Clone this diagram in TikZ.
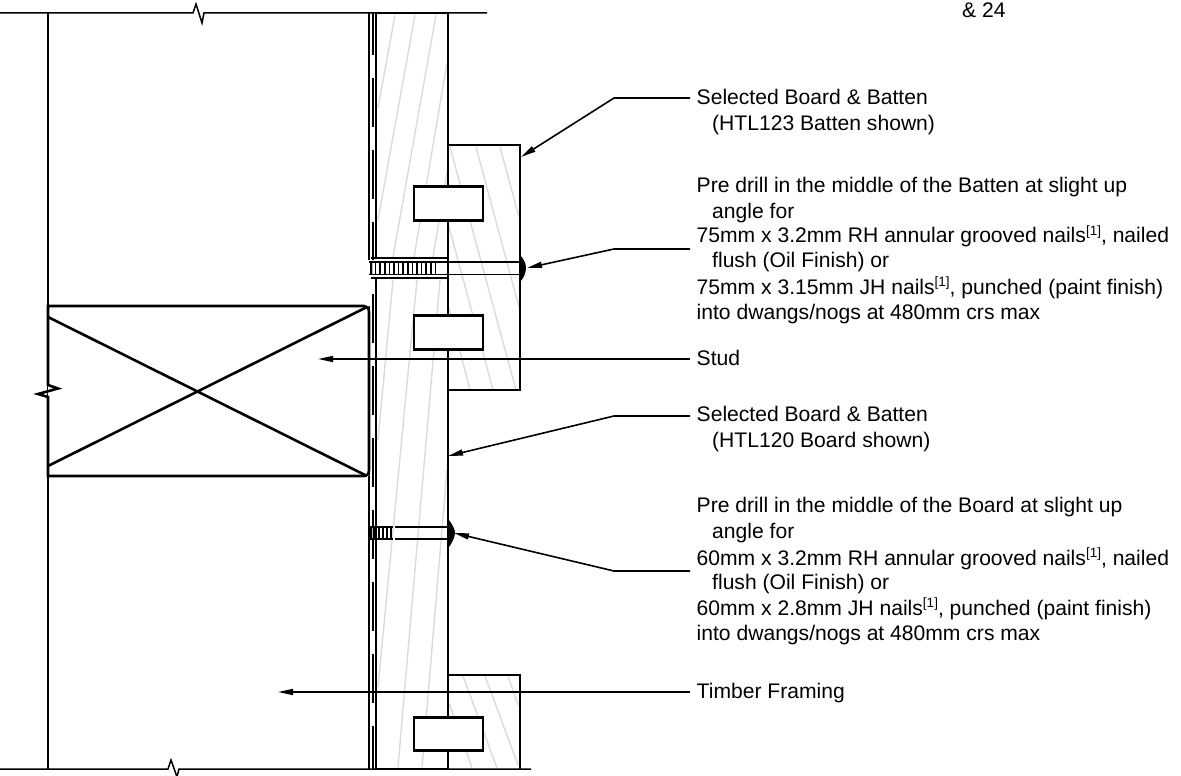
\documentclass[tikz,border=0pt]{standalone}
\usepackage{fontspec}
\setmainfont{Liberation Sans}
\usetikzlibrary{arrows.meta}
\definecolor{hatchgray}{gray}{0.86}
\tikzset{
  thick line/.style={line width=2.6pt,black,line join=miter},
  thin line/.style={line width=1.5pt,black},
  hatchline/.style={line width=1.4pt,hatchgray},
  leader/.style={line width=1.6pt,black,-{Triangle[length=15pt,width=6pt]}},
  note/.style={anchor=base west,inner sep=0pt,font=\fontsize{21.1}{25}\selectfont},
}
\newcommand{\refn}{\raisebox{7.5pt}{\fontsize{13.5}{14}\selectfont [1]}}
\begin{document}
\begin{tikzpicture}[x=1pt,y=-1pt]
\useasboundingbox[fill=white] (0,0) rectangle (1181,776);
% hatching
\foreach \a/\b/\c/\d in {
 395/15/378/108, 415/15/378/220, 436/15/393/257, 447/63/414/257, 447/173/433/257,
 393/280/378/440, 417/280/378/687, 440/280/398/767, 447/470/422/767,
 450/147/516/390, 476/147/519/307, 500/147/519/217, 448/223/493/390, 449/308/470/390,
 463/676/497/768, 485/676/518/765, 508/676/518/705, 449/703/472/768}
 {\draw[hatchline] (\a,\b) -- (\c,\d);}
% framing
\draw[thin line] (0,13) -- (193,13) -- (196,4) -- (202,23) -- (204,13) -- (487,13);
\draw[thin line] (0,769) -- (168,769) -- (171,760) -- (177,777) -- (179,769) -- (531,769);
\draw[thin line] (48,13) -- (48,769);
\draw[thin line] (369,13) -- (369,260);
\draw[thin line] (369,306) -- (369,769);
% wrap
\draw[line width=2.3pt,dash pattern=on 49pt off 23pt,dash phase=7pt] (373,13) -- (373,769);
% board
\draw[thick line] (376,13) rectangle (448,258);
\draw[thick line] (376,278) -- (376,769) -- (448,769) -- (448,278) -- cycle;
% battens
\draw[thick line] (448,145) -- (520,145) -- (520,390) -- (448,390);
\draw[thick line] (448,675) -- (520,675) -- (520,769);
\node[thick line,draw,fill=white,minimum width=69pt,minimum height=33.5pt,inner sep=0pt] (r1) at (448.5,203.5) {};
\node[thick line,draw,fill=white,minimum width=69pt,minimum height=33.5pt,inner sep=0pt] (r2) at (448.5,332.5) {};
\node[thick line,draw,fill=white,minimum width=69pt,minimum height=33.5pt,inner sep=0pt] (r3) at (448.5,734) {};
% stud
\fill[white] (48,306) rectangle (369,476);
\draw[thick line] (48,476) -- (48,397) -- (38,394) -- (58,388.5) -- (48,385) -- (48,306)
  -- (364,306) .. controls (367,306) and (369,308) .. (369,312)
  -- (369,470) .. controls (369,474) and (367,476) .. (364,476) -- cycle;
\draw[thick line] (48,317) -- (367,476) (48,466) -- (367,307);
% upper nail
\fill[white] (369,259.5) rectangle (447,276.5);
\fill[black!25] (370,262) rectangle (373,274);
\draw[thin line] (369,262) -- (521,262) (369,274.5) -- (521,274.5);
\foreach \x in {371,375.6,...,438} \draw[line width=1.5pt] (\x,262) -- (\x,275);
\draw[thick line] (371,258) -- (448,258) (371,278) -- (448,278);
\draw[thick line] (448,258) -- (448,278);
\fill (520,255) .. controls (524,259) and (526,264) .. (526,268) .. controls (526,272) and (524,278) .. (520,282) -- cycle;
% lower nail
\fill[black!25] (370,527) rectangle (373,539);
\draw[thin line] (369,527) -- (393,527) (395,527) -- (448,527) (369,539) -- (393,539) (395,539) -- (448,539);
\foreach \x in {371,375,...,393} \draw[line width=1.5pt] (\x,526) -- (\x,540);
\fill (449,520) .. controls (452,524) and (455,529) .. (455,533) .. controls (455,537) and (452,543) .. (449,547) -- cycle;
% leaders
\coordinate (a1) at (521,157); \coordinate (a2) at (527,268); \coordinate (a3) at (318,359);
\coordinate (a4) at (448,456); \coordinate (a5) at (454,533); \coordinate (a6) at (278,692);
\draw[leader] (690,98) -- (614,98) -- (a1);
\draw[leader] (690,249) -- (614,249) -- (a2);
\draw[leader] (690,359) -- (a3);
\draw[leader] (690,416) -- (614,416) -- (a4);
\draw[leader] (690,571) -- (614,571) -- (a5);
\draw[leader] (690,692) -- (a6);
% text
\node[note] (t0) at (962,18) {\& 24};
\node[note] (t1) at (696.5,104) {Selected Board \& Batten};
\node[note] (t2) at (712,130) {(HTL123 Batten shown)};
\node[note] (t3) at (696.5,192) {Pre drill in the middle of the Batten at slight up};
\node[note] (t4) at (712,218) {angle for};
\node[note] (t5) at (696.5,242.5) {75mm x 3.2mm RH annular grooved nails\refn, nailed};
\node[note] (t6) at (712,267.5) {flush (Oil Finish) or};
\node[note] (t7) at (696.5,294) {75mm x 3.15mm JH nails\refn, punched (paint finish)};
\node[note] (t8) at (696.5,319) {into dwangs/nogs at 480mm crs max};
\node[note] (t9) at (696.5,365) {Stud};
\node[note] (t10) at (696.5,421.5) {Selected Board \& Batten};
\node[note] (t11) at (712,447.5) {(HTL120 Board shown)};
\node[note] (t12) at (696.5,512) {Pre drill in the middle of the Board at slight up};
\node[note] (t13) at (712,538) {angle for};
\node[note] (t14) at (696.5,565) {60mm x 3.2mm RH annular grooved nails\refn, nailed};
\node[note] (t15) at (712,589) {flush (Oil Finish) or};
\node[note] (t16) at (696.5,615) {60mm x 2.8mm JH nails\refn, punched (paint finish)};
\node[note] (t17) at (696.5,640) {into dwangs/nogs at 480mm crs max};
\node[note] (t18) at (696.5,698) {Timber Framing};
\end{tikzpicture}
\end{document}
